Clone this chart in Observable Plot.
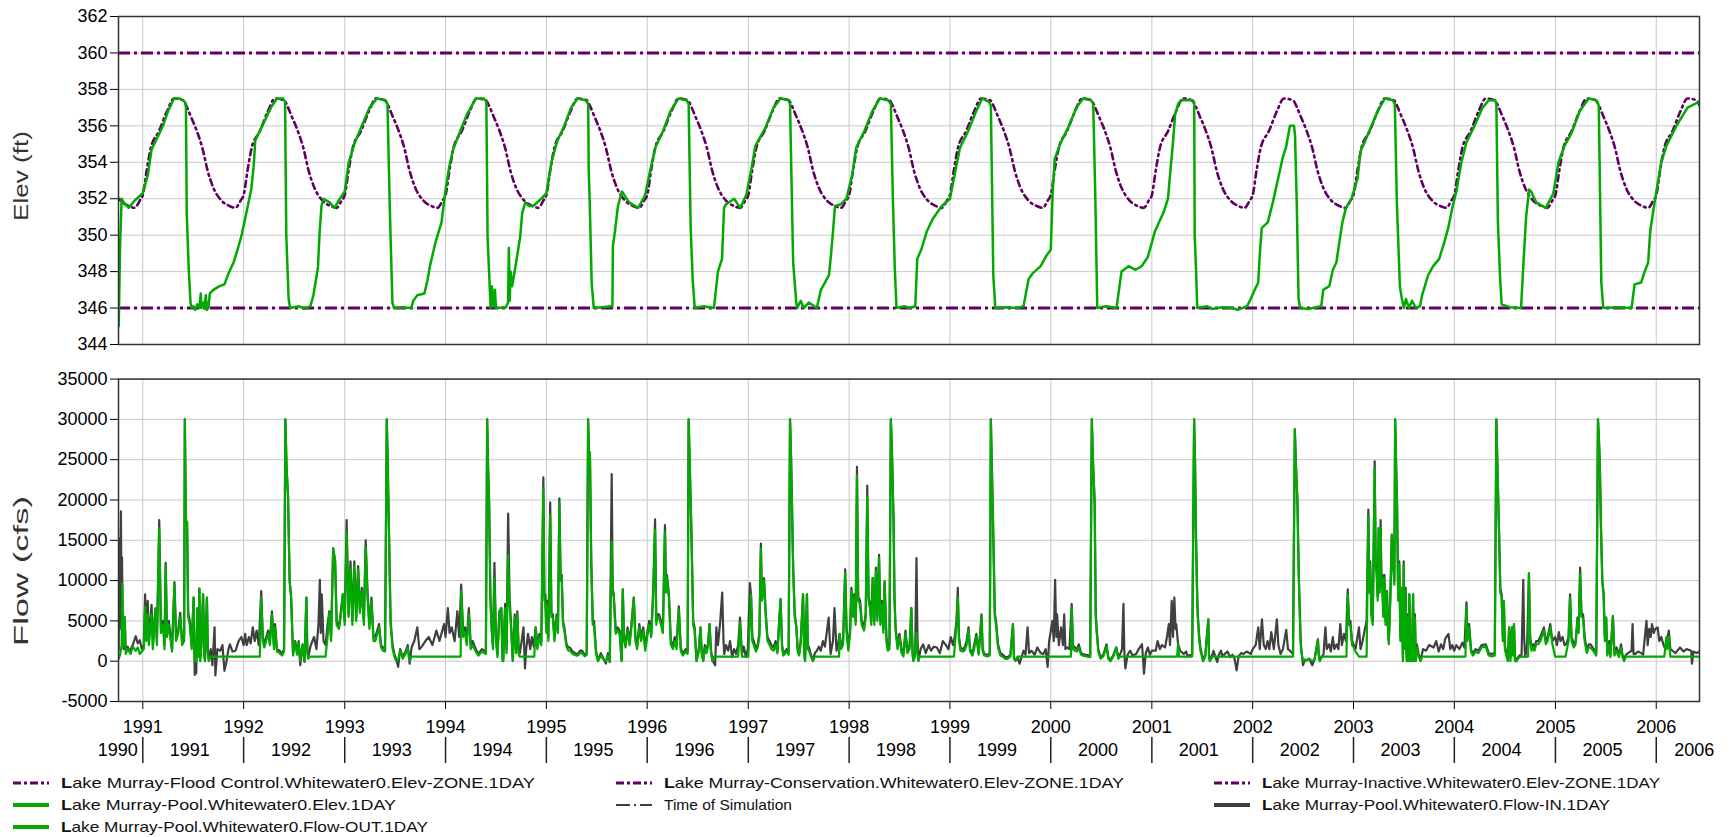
<!DOCTYPE html>
<html><head><meta charset="utf-8">
<script src="https://cdn.jsdelivr.net/npm/d3@7"></script>
<script src="https://cdn.jsdelivr.net/npm/@observablehq/plot@0.6"></script>
<style>
body{margin:0;background:#fff;font-family:"Liberation Sans",Arial,sans-serif;}
#root{position:relative;width:1735px;height:837px;overflow:hidden;background:#fff;}
#root > div{position:absolute;left:0;}
#overlay{position:absolute;left:0;top:0;pointer-events:none;}
</style></head>
<body><div id="root"><div id="topPanel" style="top:0"></div><div id="bottomPanel" style="top:360px"></div><div id="axis2" style="top:737px"></div><svg id="overlay" width="1735" height="837"></svg></div>
<script>
// ---------- DATA (decimal year, value) ----------
const elevTicks = [344,346,348,350,352,354,356,358,360,362];
const flowTicks = [-5000,0,5000,10000,15000,20000,25000,30000,35000];
const tickYears = [1991,1992,1993,1994,1995,1996,1997,1998,1999,2000,2001,2002,2003,2004,2005,2006];
const periodLabels = ["1990","1991","1992","1993","1994","1995","1996","1997","1998","1999","2000","2001","2002","2003","2004","2005","2006"];
const floodControlElev = [360];
const inactiveElev = [346];
// Conservation guide curve: fraction of year -> elevation (ft)
const guideFrac = [0,0.04,0.08,0.16,0.24,0.31,0.40,0.44,0.47,0.53,0.59,0.645,0.70,0.78,0.86,0.92,0.97];
const guideElev = [352.2,353.6,354.8,355.7,356.8,357.5,357.4,357.0,356.6,355.8,354.8,353.5,352.6,351.9,351.6,351.5,351.9];

const poolElev = [[1990.761,345.0],[1990.775,349.5],[1990.79,352.0],[1990.81,351.8],[1990.86,351.5],[1990.92,351.9],[1991.0,352.3],[1991.05,353.3],[1991.087,354.7],[1991.14,355.3],[1991.2,356.0],[1991.25,356.8],[1991.31,357.5],[1991.37,357.5],[1991.42,357.3],[1991.428,357.0],[1991.436,351.2],[1991.455,348.2],[1991.473,346.3],[1991.485,346.0],[1991.5,346.1],[1991.52,345.9],[1991.54,346.2],[1991.56,346.0],[1991.575,346.8],[1991.58,346.0],[1991.6,346.3],[1991.61,346.0],[1991.625,346.7],[1991.635,345.9],[1991.65,346.0],[1991.665,346.8],[1991.7,347.0],[1991.76,347.2],[1991.81,347.3],[1991.85,347.9],[1991.9,348.5],[1991.94,349.2],[1991.98,350.0],[1992.03,351.3],[1992.075,352.5],[1992.1,353.8],[1992.115,355.2],[1992.15,355.6],[1992.21,356.3],[1992.27,357.0],[1992.33,357.5],[1992.39,357.5],[1992.41,357.3],[1992.422,350.0],[1992.445,346.5],[1992.46,346.0],[1992.55,346.1],[1992.6,345.95],[1992.66,346.1],[1992.69,346.7],[1992.735,348.2],[1992.75,350.0],[1992.77,351.6],[1992.79,352.0],[1992.85,351.8],[1992.9,351.5],[1992.94,351.9],[1993.0,352.4],[1993.04,354.0],[1993.095,355.0],[1993.17,356.0],[1993.246,357.0],[1993.32,357.5],[1993.4,357.4],[1993.424,357.2],[1993.447,351.5],[1993.473,346.3],[1993.49,346.0],[1993.57,346.05],[1993.66,346.0],[1993.68,346.4],[1993.72,346.7],[1993.79,346.8],[1993.82,347.5],[1993.845,348.3],[1993.9,349.6],[1993.96,350.7],[1994.0,352.5],[1994.038,353.8],[1994.075,354.7],[1994.13,355.5],[1994.21,356.6],[1994.3,357.5],[1994.38,357.5],[1994.405,357.3],[1994.417,349.9],[1994.447,346.0],[1994.46,347.2],[1994.475,346.1],[1994.49,347.0],[1994.5,346.0],[1994.6,346.05],[1994.62,346.3],[1994.628,349.3],[1994.637,346.4],[1994.645,348.0],[1994.66,347.2],[1994.7,348.5],[1994.74,349.9],[1994.76,351.2],[1994.79,351.8],[1994.83,351.6],[1994.87,351.6],[1994.93,351.9],[1995.0,352.3],[1995.05,354.0],[1995.11,355.2],[1995.17,355.9],[1995.245,357.0],[1995.31,357.5],[1995.39,357.4],[1995.415,357.2],[1995.42,353.6],[1995.43,351.8],[1995.45,347.3],[1995.47,346.0],[1995.55,346.05],[1995.64,346.1],[1995.655,346.1],[1995.66,349.4],[1995.68,350.2],[1995.71,351.6],[1995.75,352.4],[1995.82,351.8],[1995.91,351.5],[1995.98,352.2],[1996.02,353.3],[1996.08,354.8],[1996.156,355.7],[1996.23,356.8],[1996.31,357.5],[1996.39,357.4],[1996.41,357.2],[1996.43,350.4],[1996.45,347.6],[1996.47,346.0],[1996.56,346.1],[1996.66,346.0],[1996.7,348.0],[1996.74,348.7],[1996.76,351.5],[1996.78,351.7],[1996.86,352.0],[1996.92,351.5],[1996.98,352.2],[1997.03,353.6],[1997.07,354.9],[1997.17,355.9],[1997.25,357.0],[1997.32,357.5],[1997.4,357.4],[1997.414,357.2],[1997.445,348.5],[1997.476,346.3],[1997.485,346.0],[1997.52,346.4],[1997.55,346.0],[1997.6,346.3],[1997.68,346.0],[1997.72,347.0],[1997.76,347.4],[1997.8,347.8],[1997.82,348.9],[1997.84,350.2],[1997.86,351.6],[1997.92,351.7],[1997.973,352.0],[1998.03,353.3],[1998.07,354.8],[1998.15,355.7],[1998.23,356.8],[1998.305,357.5],[1998.385,357.4],[1998.414,357.2],[1998.434,352.0],[1998.453,348.2],[1998.47,346.0],[1998.55,346.1],[1998.6,346.0],[1998.656,346.1],[1998.676,348.7],[1998.715,349.2],[1998.77,350.2],[1998.83,350.9],[1998.92,351.6],[1999.0,352.0],[1999.06,353.7],[1999.1,354.8],[1999.18,355.7],[1999.26,356.8],[1999.32,357.5],[1999.39,357.3],[1999.406,357.1],[1999.43,347.8],[1999.45,346.0],[1999.55,346.05],[1999.67,346.0],[1999.73,346.1],[1999.78,347.6],[1999.82,347.9],[1999.9,348.3],[1999.96,348.9],[2000.0,349.2],[2000.02,352.5],[2000.04,354.2],[2000.1,355.1],[2000.18,356.0],[2000.254,357.0],[2000.32,357.5],[2000.4,357.4],[2000.42,357.2],[2000.44,352.3],[2000.46,346.0],[2000.55,346.1],[2000.65,346.0],[2000.7,348.0],[2000.77,348.3],[2000.84,348.1],[2000.9,348.3],[2000.96,348.8],[2001.03,350.2],[2001.07,350.7],[2001.12,351.3],[2001.16,352.0],[2001.18,353.3],[2001.21,355.1],[2001.23,356.6],[2001.26,357.2],[2001.29,357.4],[2001.4,357.4],[2001.42,357.2],[2001.425,350.0],[2001.44,347.8],[2001.45,346.0],[2001.55,346.1],[2001.6,345.95],[2001.7,346.05],[2001.8,346.0],[2001.85,345.9],[2001.945,346.1],[2001.98,346.5],[2002.02,347.0],[2002.055,347.4],[2002.07,348.9],[2002.09,350.4],[2002.15,350.7],[2002.2,351.8],[2002.26,353.3],[2002.3,354.3],[2002.33,354.8],[2002.37,356.0],[2002.41,356.0],[2002.42,355.5],[2002.437,351.8],[2002.455,346.5],[2002.47,346.0],[2002.55,345.95],[2002.68,346.1],[2002.7,347.0],[2002.76,347.2],[2002.795,348.1],[2002.83,348.5],[2002.87,350.0],[2002.89,350.7],[2002.925,351.5],[2002.98,352.0],[2003.04,353.1],[2003.07,354.6],[2003.11,355.1],[2003.17,355.9],[2003.24,356.8],[2003.31,357.5],[2003.39,357.4],[2003.41,357.2],[2003.43,351.8],[2003.46,347.2],[2003.48,346.5],[2003.5,346.0],[2003.52,346.5],[2003.55,346.0],[2003.58,346.4],[2003.62,346.0],[2003.66,346.1],[2003.68,346.7],[2003.74,347.8],[2003.79,348.3],[2003.85,348.7],[2003.9,349.6],[2003.94,350.4],[2003.98,351.5],[2004.02,352.4],[2004.07,354.0],[2004.12,355.1],[2004.2,356.0],[2004.28,357.0],[2004.34,357.4],[2004.405,357.4],[2004.416,357.2],[2004.431,350.7],[2004.453,347.6],[2004.468,346.2],[2004.55,346.05],[2004.66,346.0],[2004.68,348.1],[2004.71,351.0],[2004.74,352.5],[2004.76,352.4],[2004.81,351.8],[2004.904,351.5],[2004.98,352.3],[2005.03,354.0],[2005.09,354.9],[2005.16,355.6],[2005.24,356.8],[2005.33,357.5],[2005.405,357.4],[2005.43,357.1],[2005.455,347.4],[2005.475,346.0],[2005.6,346.05],[2005.755,346.0],[2005.785,347.3],[2005.85,347.4],[2005.885,348.0],[2005.92,348.5],[2005.94,350.2],[2005.975,351.5],[2006.01,352.7],[2006.05,354.0],[2006.1,354.9],[2006.2,356.0],[2006.31,357.0],[2006.42,357.3]];

const flowIn = [[1990.761,1300],[1990.766,15200],[1990.772,4000],[1990.778,12900],[1990.783,18600],[1990.789,6000],[1990.794,12900],[1990.80,3000],[1990.81,1500],[1990.82,5000],[1990.83,1500],[1990.85,1800],[1990.87,1200],[1990.9,2000],[1990.93,3100],[1990.95,2200],[1990.97,2600],[1990.99,1500],
[1991.01,2000],[1991.023,8300],[1991.035,3000],[1991.049,7500],[1991.06,2500],[1991.087,7000],[1991.1,2000],[1991.125,6500],[1991.14,2500],[1991.163,17500],[1991.18,4000],[1991.201,5000],[1991.215,2000],[1991.227,12200],[1991.24,3500],[1991.258,5000],[1991.277,3000],[1991.29,1500],[1991.314,9800],[1991.33,3000],[1991.352,4000],[1991.371,6000],[1991.39,2500],[1991.41,3000],[1991.417,30000],[1991.428,17000],[1991.439,17300],[1991.45,6000],[1991.466,5000],[1991.485,2000],[1991.504,7900],[1991.515,-1700],[1991.523,2500],[1991.53,-1500],[1991.542,6600],[1991.55,1000],[1991.561,9000],[1991.57,500],[1991.58,2000],[1991.598,8300],[1991.61,1000],[1991.617,300],[1991.636,7900],[1991.645,1500],[1991.655,200],[1991.674,1500],[1991.69,-500],[1991.712,4200],[1991.72,-1760],[1991.74,1500],[1991.769,1300],[1991.79,2000],[1991.81,-1200],[1991.826,-300],[1991.85,1500],[1991.864,2100],[1991.89,1200],[1991.92,1300],[1991.95,2500],[1991.977,3000],
[1992.0,2000],[1992.015,3400],[1992.03,2000],[1992.053,3000],[1992.07,2200],[1992.091,4200],[1992.11,2500],[1992.129,3800],[1992.15,2000],[1992.174,8700],[1992.19,3000],[1992.205,2100],[1992.242,3800],[1992.26,2500],[1992.28,6200],[1992.3,2000],[1992.311,4600],[1992.33,1500],[1992.356,1300],[1992.38,900],[1992.4,1500],[1992.413,30000],[1992.425,24000],[1992.439,20600],[1992.455,10000],[1992.47,7900],[1992.489,900],[1992.51,2500],[1992.53,1000],[1992.545,2500],[1992.56,-500],[1992.583,2100],[1992.602,-100],[1992.621,7900],[1992.63,1500],[1992.64,500],[1992.66,1800],[1992.68,2500],[1992.697,3000],[1992.72,1500],[1992.74,4500],[1992.754,10100],[1992.763,3500],[1992.773,8300],[1992.79,2500],[1992.811,2000],[1992.83,4500],[1992.848,6200],[1992.865,3000],[1992.886,14000],[1992.905,12400],[1992.92,5000],[1992.943,4200],[1992.96,6000],[1992.981,8300],[1993.0,5000],
[1993.019,17500],[1993.038,5800],[1993.057,12400],[1993.076,5000],[1993.095,12400],[1993.114,5400],[1993.133,11800],[1993.15,6500],[1993.17,9100],[1993.19,5000],[1993.208,15000],[1993.227,8300],[1993.245,4500],[1993.265,7900],[1993.285,3000],[1993.303,3000],[1993.341,4600],[1993.36,2000],[1993.379,1700],[1993.4,1500],[1993.417,30000],[1993.426,25000],[1993.436,18100],[1993.455,5000],[1993.475,2000],[1993.492,900],[1993.51,300],[1993.53,-700],[1993.55,1500],[1993.575,500],[1993.606,1300],[1993.625,2000],[1993.644,-300],[1993.663,1700],[1993.69,2500],[1993.72,4200],[1993.74,1500],[1993.758,1700],[1993.8,2500],[1993.833,3000],[1993.87,2000],[1993.909,3800],[1993.94,2500],[1993.985,4600],[1994.0,3000],
[1994.023,6600],[1994.04,3500],[1994.061,4200],[1994.09,2500],[1994.117,6200],[1994.135,3000],[1994.155,9500],[1994.175,3500],[1994.193,4200],[1994.21,2500],[1994.231,6600],[1994.25,2000],[1994.269,2500],[1994.3,1500],[1994.326,900],[1994.36,1500],[1994.4,1200],[1994.413,30000],[1994.422,24000],[1994.432,19800],[1994.445,8000],[1994.458,4200],[1994.47,2000],[1994.485,12200],[1994.5,3000],[1994.515,900],[1994.534,6200],[1994.553,6600],[1994.565,500],[1994.572,100],[1994.591,7100],[1994.605,1500],[1994.621,18300],[1994.635,8000],[1994.648,5000],[1994.667,100],[1994.686,5800],[1994.7,1500],[1994.712,6200],[1994.725,1500],[1994.735,900],[1994.755,2500],[1994.773,4200],[1994.788,-900],[1994.8,1500],[1994.818,3400],[1994.84,1500],[1994.856,3000],[1994.875,1800],[1994.894,4200],[1994.91,2000],[1994.932,3400],[1994.95,2500],[1994.97,22800],[1994.98,8000],[1994.989,8300],[1995.0,4000],
[1995.008,7500],[1995.02,3000],[1995.038,19700],[1995.05,6000],[1995.064,5800],[1995.08,3000],[1995.102,5800],[1995.115,4000],[1995.129,20200],[1995.141,10700],[1995.152,10700],[1995.165,5000],[1995.178,4200],[1995.2,2100],[1995.219,1700],[1995.235,1700],[1995.26,1200],[1995.297,900],[1995.311,900],[1995.335,1300],[1995.355,1300],[1995.38,800],[1995.4,1000],[1995.414,30000],[1995.422,26000],[1995.432,25900],[1995.445,12400],[1995.46,5000],[1995.473,5000],[1995.492,1300],[1995.512,100],[1995.54,1000],[1995.56,500],[1995.59,-300],[1995.61,1000],[1995.629,-100],[1995.648,23200],[1995.658,9000],[1995.668,8300],[1995.688,3800],[1995.707,4200],[1995.727,3800],[1995.746,100],[1995.758,8900],[1995.77,3000],[1995.785,2100],[1995.805,4200],[1995.825,2500],[1995.844,4600],[1995.867,7900],[1995.883,3000],[1995.9,2000],[1995.922,4600],[1995.94,3000],[1995.961,4200],[1995.98,1700],
[1996.0,3500],[1996.02,5000],[1996.04,3500],[1996.059,8700],[1996.078,17600],[1996.09,5000],[1996.098,5800],[1996.117,5800],[1996.137,5000],[1996.155,4000],[1996.176,16900],[1996.186,9000],[1996.195,10700],[1996.215,8300],[1996.234,2500],[1996.255,2000],[1996.273,3000],[1996.29,2000],[1996.313,6800],[1996.332,1700],[1996.352,900],[1996.38,1500],[1996.4,1200],[1996.41,30000],[1996.42,25000],[1996.438,15700],[1996.455,5000],[1996.469,4200],[1996.488,100],[1996.51,1500],[1996.527,4200],[1996.54,1000],[1996.555,100],[1996.57,2000],[1996.586,1300],[1996.6,2000],[1996.617,4600],[1996.63,1500],[1996.645,100],[1996.672,-500],[1996.684,4200],[1996.7,2000],[1996.723,5000],[1996.742,8500],[1996.755,2500],[1996.762,900],[1996.78,2000],[1996.801,1300],[1996.82,2500],[1996.84,500],[1996.86,1500],[1996.879,900],[1996.9,2000],[1996.918,5400],[1996.93,2500],[1996.938,900],[1996.955,1800],[1996.977,500],[1996.995,1500],
[1997.016,9700],[1997.027,8300],[1997.04,3000],[1997.055,2500],[1997.075,1500],[1997.094,2100],[1997.11,3500],[1997.125,14600],[1997.135,8000],[1997.141,8300],[1997.156,10300],[1997.172,6200],[1997.19,3000],[1997.211,2500],[1997.23,2000],[1997.25,1700],[1997.27,2500],[1997.289,1300],[1997.32,7700],[1997.335,2000],[1997.348,900],[1997.38,1500],[1997.4,1000],[1997.414,30000],[1997.425,25000],[1997.445,11600],[1997.46,6000],[1997.477,4200],[1997.49,1500],[1997.504,900],[1997.52,2500],[1997.543,8300],[1997.555,1000],[1997.563,100],[1997.582,8300],[1997.59,2000],[1997.602,1700],[1997.62,900],[1997.641,100],[1997.66,1000],[1997.68,1300],[1997.7,1800],[1997.719,1300],[1997.74,2500],[1997.76,1800],[1997.797,5400],[1997.816,900],[1997.84,2500],[1997.855,6600],[1997.875,1300],[1997.89,2000],[1997.906,3400],[1997.92,2000],[1997.94,2500],[1997.961,11400],[1997.975,4000],[1997.992,1700],
[1998.01,4000],[1998.023,9100],[1998.04,6000],[1998.051,8300],[1998.065,5000],[1998.078,24100],[1998.09,8000],[1998.109,7500],[1998.125,5000],[1998.148,4200],[1998.165,6000],[1998.18,21800],[1998.193,8000],[1998.207,7100],[1998.22,5000],[1998.234,10300],[1998.25,5000],[1998.266,11600],[1998.28,5500],[1998.297,13200],[1998.31,5000],[1998.324,7500],[1998.34,4000],[1998.352,9900],[1998.37,3000],[1998.383,1700],[1998.4,2000],[1998.414,30000],[1998.425,26000],[1998.441,17300],[1998.45,8000],[1998.461,4200],[1998.48,2000],[1998.5,3400],[1998.52,1500],[1998.539,900],[1998.559,3800],[1998.578,1300],[1998.6,2000],[1998.617,6600],[1998.63,1000],[1998.637,100],[1998.655,1000],[1998.668,12800],[1998.678,3000],[1998.688,100],[1998.71,1500],[1998.734,2100],[1998.76,1000],[1998.79,2000],[1998.813,1300],[1998.84,1800],[1998.871,1700],[1998.9,1000],[1998.93,2500],[1998.96,2000],[1998.985,1500],
[1999.008,3000],[1999.03,2000],[1999.047,3000],[1999.065,5000],[1999.078,9100],[1999.09,3000],[1999.105,1700],[1999.125,1500],[1999.145,1700],[1999.165,2500],[1999.184,4200],[1999.2,1500],[1999.223,900],[1999.24,2000],[1999.262,3400],[1999.285,1000],[1999.313,5800],[1999.325,1500],[1999.34,900],[1999.37,800],[1999.395,900],[1999.406,30000],[1999.416,24000],[1999.43,15700],[1999.445,6000],[1999.457,5000],[1999.477,2100],[1999.5,1000],[1999.516,900],[1999.55,500],[1999.574,500],[1999.6,800],[1999.625,4600],[1999.635,500],[1999.652,100],[1999.67,500],[1999.691,-300],[1999.71,500],[1999.73,1300],[1999.75,800],[1999.77,4200],[1999.785,1000],[1999.809,1300],[1999.84,800],[1999.867,1700],[1999.9,1000],[1999.926,900],[1999.95,1500],[1999.969,-700],[1999.984,2500],
[2000.016,5000],[2000.03,2500],[2000.043,10100],[2000.055,3000],[2000.063,5800],[2000.08,2000],[2000.102,4200],[2000.12,2000],[2000.133,5800],[2000.145,1500],[2000.16,1700],[2000.185,1500],[2000.207,7100],[2000.22,2000],[2000.238,1700],[2000.26,1500],[2000.277,2100],[2000.3,1000],[2000.316,900],[2000.35,800],[2000.39,700],[2000.406,30000],[2000.42,24000],[2000.434,19800],[2000.445,6000],[2000.453,4200],[2000.47,1500],[2000.492,500],[2000.52,800],[2000.551,2100],[2000.57,500],[2000.59,100],[2000.62,800],[2000.648,1700],[2000.668,500],[2000.688,900],[2000.705,1500],[2000.719,7100],[2000.728,1000],[2000.738,-900],[2000.76,800],[2000.785,1300],[2000.81,700],[2000.844,900],[2000.87,1500],[2000.902,2100],[2000.912,500],[2000.922,-1560],[2000.94,1000],[2000.961,1700],[2000.98,800],
[2001.0,1300],[2001.038,1300],[2001.057,2500],[2001.08,1500],[2001.1,2000],[2001.131,1700],[2001.15,3000],[2001.168,4600],[2001.18,2000],[2001.197,7500],[2001.21,3000],[2001.223,7900],[2001.235,4000],[2001.242,4600],[2001.26,2100],[2001.28,1300],[2001.316,900],[2001.34,1200],[2001.353,700],[2001.4,800],[2001.419,30000],[2001.428,25000],[2001.438,15300],[2001.45,8000],[2001.456,5800],[2001.47,3000],[2001.482,1700],[2001.508,100],[2001.53,800],[2001.56,5200],[2001.567,800],[2001.575,100],[2001.6,800],[2001.612,1300],[2001.63,500],[2001.649,-100],[2001.665,800],[2001.686,1300],[2001.7,600],[2001.723,900],[2001.75,1200],[2001.778,500],[2001.8,800],[2001.82,300],[2001.841,-1150],[2001.86,600],[2001.885,1000],[2001.908,900],[2001.94,1200],[2001.982,900],
[2002.0,1500],[2002.03,2000],[2002.055,4200],[2002.07,1500],[2002.092,5200],[2002.11,2000],[2002.13,1500],[2002.148,2500],[2002.165,1500],[2002.185,3600],[2002.21,1500],[2002.24,5200],[2002.255,2000],[2002.277,900],[2002.3,1500],[2002.333,3900],[2002.35,1500],[2002.37,1300],[2002.4,900],[2002.418,28800],[2002.43,24000],[2002.444,19800],[2002.455,12000],[2002.462,8300],[2002.475,3000],[2002.481,1700],[2002.499,-500],[2002.52,200],[2002.536,100],[2002.56,300],[2002.592,-500],[2002.615,300],[2002.647,2700],[2002.655,1000],[2002.666,100],[2002.685,500],[2002.703,900],[2002.721,4200],[2002.735,1500],[2002.758,2100],[2002.775,1200],[2002.795,3000],[2002.81,1500],[2002.832,2100],[2002.85,1500],[2002.869,4600],[2002.885,2000],[2002.906,3400],[2002.925,2500],[2002.943,8900],[2002.955,5000],[2002.969,5000],[2002.985,2500],
[2002.999,2100],[2003.02,1500],[2003.054,4200],[2003.07,1500],[2003.09,2500],[2003.11,3800],[2003.13,5000],[2003.147,18800],[2003.158,9000],[2003.165,12400],[2003.178,6000],[2003.191,5000],[2003.21,24800],[2003.22,12000],[2003.228,11600],[2003.24,8000],[2003.25,16500],[2003.26,9000],[2003.269,17500],[2003.277,10000],[2003.284,10700],[2003.295,6000],[2003.306,10700],[2003.318,5000],[2003.332,8700],[2003.34,5000],[2003.35,2500],[2003.365,8000],[2003.38,15700],[2003.395,12000],[2003.405,10000],[2003.413,30000],[2003.42,26000],[2003.432,19400],[2003.443,8000],[2003.454,12400],[2003.465,3000],[2003.48,9100],[2003.49,500],[2003.498,12400],[2003.508,2000],[2003.517,9100],[2003.527,500],[2003.535,5800],[2003.545,300],[2003.554,8300],[2003.563,500],[2003.572,3000],[2003.58,200],[2003.591,8300],[2003.6,300],[2003.609,5800],[2003.618,200],[2003.628,2100],[2003.646,900],[2003.665,100],[2003.69,1500],[2003.72,1300],[2003.75,2000],[2003.794,1700],[2003.82,2500],[2003.845,1200],[2003.868,2100],[2003.89,1500],[2003.91,2800],[2003.942,3400],[2003.96,1500],[2003.98,2000],[2003.998,1300],
[2004.02,2000],[2004.05,1500],[2004.08,2300],[2004.1,1700],[2004.12,7300],[2004.13,3000],[2004.146,4600],[2004.165,1500],[2004.183,900],[2004.21,1500],[2004.238,1300],[2004.27,2000],[2004.312,2100],[2004.34,1000],[2004.368,900],[2004.4,1000],[2004.416,30000],[2004.425,25000],[2004.442,16100],[2004.455,9000],[2004.468,8300],[2004.48,3000],[2004.49,7500],[2004.5,2000],[2004.516,900],[2004.53,500],[2004.542,4200],[2004.555,500],[2004.571,4200],[2004.58,1000],[2004.59,4600],[2004.6,500],[2004.616,100],[2004.63,500],[2004.645,700],[2004.665,800],[2004.682,10100],[2004.69,3000],[2004.701,500],[2004.72,2000],[2004.738,10900],[2004.75,3000],[2004.764,1700],[2004.78,2100],[2004.793,1700],[2004.81,2500],[2004.83,2500],[2004.85,3000],[2004.886,4200],[2004.905,2500],[2004.923,3000],[2004.949,4600],[2004.97,2500],[2004.997,3000],
[2005.015,2000],[2005.034,3600],[2005.05,2500],[2005.071,3000],[2005.09,2000],[2005.108,2100],[2005.13,3000],[2005.145,8300],[2005.16,3000],[2005.182,2100],[2005.2,2500],[2005.219,5400],[2005.23,4000],[2005.245,11600],[2005.258,6000],[2005.274,5800],[2005.29,3000],[2005.311,1300],[2005.33,2100],[2005.348,2100],[2005.38,1500],[2005.405,1000],[2005.422,30000],[2005.43,28000],[2005.44,24700],[2005.452,16500],[2005.465,10000],[2005.478,8300],[2005.49,3000],[2005.503,5400],[2005.515,1000],[2005.533,2500],[2005.545,800],[2005.57,5600],[2005.585,1000],[2005.607,1700],[2005.63,800],[2005.651,2100],[2005.665,800],[2005.681,300],[2005.7,800],[2005.72,1000],[2005.755,1300],[2005.765,4600],[2005.775,900],[2005.792,900],[2005.82,1200],[2005.85,1000],[2005.87,800],[2005.903,5000],[2005.915,2000],[2005.93,4000],[2005.945,3000],[2005.958,4600],[2005.975,3500],[2005.99,4000],
[2006.014,4200],[2006.03,2500],[2006.05,3000],[2006.07,2100],[2006.09,1500],[2006.125,3800],[2006.14,1500],[2006.162,1300],[2006.19,1000],[2006.236,1700],[2006.27,1200],[2006.3,1500],[2006.347,1300],[2006.354,-300],[2006.37,1200],[2006.4,1000],[2006.421,1200],[2006.43,1000]];

const flowOut = [[1990.761,300],[1990.775,800],[1990.79,2000],[1990.797,9700],[1990.803,6000],[1990.81,2000],[1990.822,5500],[1990.83,900],[1990.85,1500],[1990.88,900],[1990.9,1800],[1990.93,1300],[1990.95,1700],[1990.97,900],[1990.99,1200],
[1991.01,1500],[1991.023,6800],[1991.035,2500],[1991.049,5800],[1991.06,2000],[1991.087,5800],[1991.1,1500],[1991.125,6600],[1991.14,2000],[1991.163,16500],[1991.18,3500],[1991.201,4500],[1991.215,1500],[1991.227,11800],[1991.24,3000],[1991.258,4500],[1991.277,2500],[1991.29,1200],[1991.314,9600],[1991.33,2500],[1991.352,3500],[1991.371,5500],[1991.39,2000],[1991.41,2500],[1991.417,30000],[1991.428,17000],[1991.439,17300],[1991.45,5500],[1991.466,4500],[1991.485,1500],[1991.504,7900],[1991.515,0],[1991.523,2500],[1991.53,0],[1991.542,6600],[1991.55,500],[1991.561,9000],[1991.57,0],[1991.58,1500],[1991.598,8300],[1991.61,500],[1991.617,0],[1991.636,7900],[1991.645,1000],[1991.655,0],[1991.67,570],
[1992.16,570],[1992.174,7900],[1992.19,2500],[1992.205,1700],[1992.242,3400],[1992.26,2000],[1992.28,5800],[1992.3,1500],[1992.311,4200],[1992.33,1200],[1992.356,1000],[1992.38,700],[1992.4,1200],[1992.413,30000],[1992.425,24000],[1992.439,20600],[1992.455,10000],[1992.47,7900],[1992.489,700],[1992.51,2300],[1992.53,800],[1992.545,2300],[1992.56,0],[1992.583,2000],[1992.602,0],[1992.621,7900],[1992.63,1000],[1992.64,300],[1992.65,570],[1992.81,570],[1992.83,3000],[1992.848,6000],[1992.865,2500],[1992.886,14000],[1992.905,12400],[1992.92,4500],[1992.943,4000],[1992.96,5500],[1992.981,8300],[1993.0,4500],
[1993.019,16000],[1993.038,5500],[1993.057,11500],[1993.076,4500],[1993.095,11800],[1993.114,5000],[1993.133,11400],[1993.15,6000],[1993.17,8700],[1993.19,4500],[1993.208,14200],[1993.227,7900],[1993.245,4000],[1993.265,7500],[1993.285,2500],[1993.303,2500],[1993.341,4200],[1993.36,1700],[1993.379,1300],[1993.4,1200],[1993.417,30000],[1993.426,25000],[1993.436,18100],[1993.455,4500],[1993.475,1500],[1993.492,600],[1993.51,0],[1993.53,200],[1993.55,1300],[1993.575,300],[1993.606,1000],[1993.625,1700],[1993.644,0],[1993.66,570],
[1994.15,570],[1994.155,8700],[1994.175,3000],[1994.193,3600],[1994.21,2000],[1994.231,5800],[1994.25,1500],[1994.269,2000],[1994.3,1200],[1994.326,700],[1994.36,1200],[1994.4,900],[1994.413,30000],[1994.422,24000],[1994.432,19800],[1994.445,7500],[1994.458,3800],[1994.47,1500],[1994.485,10300],[1994.5,2500],[1994.515,500],[1994.534,5800],[1994.553,6600],[1994.565,0],[1994.572,0],[1994.591,6600],[1994.605,1000],[1994.621,13200],[1994.635,7000],[1994.648,4500],[1994.667,0],[1994.686,5400],[1994.7,1000],[1994.712,5800],[1994.725,1000],[1994.735,570],[1994.88,570],[1994.894,4200],[1994.91,1500],[1994.932,3000],[1994.95,2000],[1994.97,21500],[1994.98,7500],[1994.989,7500],[1995.0,3500],
[1995.008,7000],[1995.02,2500],[1995.038,18100],[1995.05,5500],[1995.064,5400],[1995.08,2500],[1995.102,5400],[1995.115,3500],[1995.129,19600],[1995.141,10000],[1995.152,10300],[1995.165,4500],[1995.178,3800],[1995.2,1800],[1995.219,1300],[1995.235,1300],[1995.26,900],[1995.297,700],[1995.311,700],[1995.335,1000],[1995.355,1000],[1995.38,600],[1995.4,800],[1995.414,30000],[1995.422,26000],[1995.432,25900],[1995.445,12400],[1995.46,4500],[1995.473,4500],[1995.492,1000],[1995.512,0],[1995.54,700],[1995.56,300],[1995.59,0],[1995.61,700],[1995.629,0],[1995.648,14800],[1995.658,8500],[1995.668,8000],[1995.688,3400],[1995.707,3800],[1995.727,3400],[1995.746,0],[1995.758,8900],[1995.77,2500],[1995.785,1700],[1995.805,3800],[1995.825,2000],[1995.844,4200],[1995.867,7900],[1995.883,2500],[1995.9,1500],[1995.922,4200],[1995.94,2500],[1995.961,3800],[1995.98,1300],
[1996.0,3000],[1996.02,4500],[1996.04,3000],[1996.059,7900],[1996.078,16300],[1996.09,4500],[1996.098,5400],[1996.117,5400],[1996.137,4500],[1996.155,3500],[1996.176,16000],[1996.186,8500],[1996.195,10300],[1996.215,7900],[1996.234,2000],[1996.255,1500],[1996.273,2500],[1996.29,1500],[1996.313,6400],[1996.332,1300],[1996.352,700],[1996.38,1200],[1996.4,900],[1996.41,30000],[1996.42,25000],[1996.438,15700],[1996.455,4500],[1996.469,3800],[1996.488,0],[1996.51,1200],[1996.527,4200],[1996.54,700],[1996.555,0],[1996.57,1700],[1996.586,1000],[1996.6,1700],[1996.617,4600],[1996.63,1200],[1996.645,0],[1996.66,570],[1996.9,570],[1996.918,4800],[1996.93,2000],[1996.938,570],
[1997.0,570],[1997.027,8300],[1997.04,2500],[1997.055,2000],[1997.075,1200],[1997.094,1700],[1997.11,3000],[1997.125,14000],[1997.135,7500],[1997.141,8000],[1997.156,10000],[1997.172,5800],[1997.19,2500],[1997.211,2000],[1997.23,1500],[1997.25,1300],[1997.27,2000],[1997.289,1000],[1997.32,7700],[1997.335,1700],[1997.348,700],[1997.38,1200],[1997.4,800],[1997.414,30000],[1997.425,25000],[1997.445,11600],[1997.46,5500],[1997.477,4200],[1997.49,1200],[1997.504,700],[1997.52,2200],[1997.543,8300],[1997.555,700],[1997.563,0],[1997.582,8300],[1997.59,1500],[1997.602,1300],[1997.62,600],[1997.641,0],[1997.66,570],[1997.9,570],[1997.906,3400],[1997.92,1500],[1997.94,2000],[1997.961,11000],[1997.975,3500],[1997.992,1300],
[1998.01,3500],[1998.023,8700],[1998.04,5500],[1998.051,7900],[1998.065,4500],[1998.078,23000],[1998.09,7500],[1998.109,7000],[1998.125,4500],[1998.148,3800],[1998.165,5500],[1998.18,20500],[1998.193,7500],[1998.207,6600],[1998.22,4500],[1998.234,10300],[1998.25,4500],[1998.266,11200],[1998.28,5000],[1998.297,12800],[1998.31,4500],[1998.324,7100],[1998.34,3500],[1998.352,9900],[1998.37,2500],[1998.383,1300],[1998.4,1500],[1998.414,30000],[1998.425,26000],[1998.441,17300],[1998.45,7500],[1998.461,3800],[1998.48,1500],[1998.5,3000],[1998.52,1000],[1998.539,600],[1998.559,3400],[1998.578,1000],[1998.6,1500],[1998.617,6600],[1998.63,700],[1998.637,0],[1998.655,700],[1998.668,3500],[1998.678,1000],[1998.688,0],[1998.7,570],
[1999.04,570],[1999.065,4500],[1999.078,7900],[1999.09,2500],[1999.105,1300],[1999.125,1200],[1999.145,1300],[1999.165,2000],[1999.184,3800],[1999.2,1200],[1999.223,700],[1999.24,1500],[1999.262,3000],[1999.285,800],[1999.313,5400],[1999.325,1200],[1999.34,700],[1999.37,600],[1999.395,700],[1999.406,30000],[1999.416,24000],[1999.43,15700],[1999.445,5500],[1999.457,4500],[1999.477,1700],[1999.5,700],[1999.516,600],[1999.55,300],[1999.574,300],[1999.6,600],[1999.625,4600],[1999.635,300],[1999.652,0],[1999.67,570],
[2000.2,570],[2000.207,6600],[2000.22,1500],[2000.238,1300],[2000.26,1200],[2000.277,1700],[2000.3,800],[2000.316,700],[2000.35,600],[2000.39,500],[2000.406,30000],[2000.42,24000],[2000.434,19800],[2000.445,5500],[2000.453,3800],[2000.47,1200],[2000.492,300],[2000.52,600],[2000.551,1800],[2000.57,300],[2000.59,0],[2000.62,600],[2000.648,1700],[2000.668,300],[2000.688,570],
[2001.25,570],[2001.26,2100],[2001.27,570],[2001.4,570],[2001.419,30000],[2001.428,25000],[2001.438,15300],[2001.45,7500],[2001.456,5400],[2001.47,2500],[2001.482,1300],[2001.508,0],[2001.53,600],[2001.56,5200],[2001.567,600],[2001.575,0],[2001.6,570],
[2002.4,570],[2002.418,28700],[2002.43,24000],[2002.444,19800],[2002.455,12000],[2002.462,8300],[2002.475,2500],[2002.481,1300],[2002.499,0],[2002.52,200],[2002.536,100],[2002.56,300],[2002.592,0],[2002.615,300],[2002.647,2700],[2002.655,700],[2002.666,0],[2002.68,570],[2002.93,570],[2002.943,8300],[2002.955,4500],[2002.969,4500],[2002.985,2000],[2002.999,1800],[2003.02,1200],[2003.054,570],
[2003.13,570],[2003.147,18000],[2003.158,8500],[2003.165,12000],[2003.178,5500],[2003.191,4500],[2003.21,24000],[2003.22,11500],[2003.228,11200],[2003.24,7500],[2003.25,16500],[2003.26,8500],[2003.269,16500],[2003.277,9500],[2003.284,10300],[2003.295,5500],[2003.306,10300],[2003.318,4500],[2003.332,8700],[2003.34,4500],[2003.35,2100],[2003.365,7500],[2003.38,15700],[2003.395,11500],[2003.405,9500],[2003.413,30000],[2003.42,26000],[2003.432,19400],[2003.443,7500],[2003.454,12000],[2003.465,2500],[2003.48,9100],[2003.49,0],[2003.498,12000],[2003.508,1500],[2003.517,8700],[2003.527,0],[2003.535,5400],[2003.545,0],[2003.554,8300],[2003.563,0],[2003.572,2500],[2003.58,0],[2003.591,8300],[2003.6,0],[2003.609,5400],[2003.618,0],[2003.628,1700],[2003.646,600],[2003.665,0],[2003.68,570],
[2004.11,570],[2004.12,6800],[2004.13,2500],[2004.146,4200],[2004.165,1200],[2004.183,700],[2004.21,1200],[2004.238,1000],[2004.27,1700],[2004.312,1800],[2004.34,700],[2004.368,600],[2004.4,700],[2004.416,30000],[2004.425,25000],[2004.442,16100],[2004.455,8500],[2004.468,7900],[2004.48,2500],[2004.49,7500],[2004.5,1500],[2004.516,600],[2004.53,0],[2004.542,4200],[2004.555,0],[2004.571,4200],[2004.58,700],[2004.59,4600],[2004.6,0],[2004.616,0],[2004.63,300],[2004.645,500],[2004.665,570],[2004.73,570],[2004.738,10900],[2004.75,2500],[2004.764,1300],[2004.78,1700],[2004.793,1300],[2004.81,2100],[2004.83,2100],[2004.85,2500],[2004.886,3800],[2004.905,2100],[2004.923,2500],[2004.949,4200],[2004.97,2100],[2004.997,570],
[2005.1,570],[2005.13,2500],[2005.145,7900],[2005.16,2500],[2005.182,1700],[2005.2,2100],[2005.219,5000],[2005.23,3500],[2005.245,10800],[2005.258,5500],[2005.274,5400],[2005.29,2500],[2005.311,1000],[2005.33,1700],[2005.348,1700],[2005.38,1200],[2005.405,700],[2005.422,30000],[2005.43,28000],[2005.44,24700],[2005.452,16500],[2005.465,10000],[2005.478,8300],[2005.49,2500],[2005.503,5400],[2005.515,700],[2005.533,2100],[2005.545,500],[2005.57,5600],[2005.585,700],[2005.607,1300],[2005.63,500],[2005.651,1700],[2005.665,500],[2005.681,0],[2005.7,570],
[2006.08,570],[2006.1,3000],[2006.11,1500],[2006.125,3000],[2006.14,570],[2006.43,570]];

// ---------- helpers ----------
const purple = "#600060", green = "#00aa00", darkGray = "#404040", gridColor = "#c8c8c8";
const FONT = "'Liberation Sans', Arial, sans-serif";
const toDate = t => { const y = Math.floor(t); const a = Date.UTC(y,0,1), b = Date.UTC(y+1,0,1); return new Date(a + (t-y)*(b-a)); };
const pts = arr => arr.map(([t,v]) => ({date: toDate(t), value: v}));
const xDomain = [toDate(1990.759), toDate(2006.429)];
const yearDates = tickYears.map(y => new Date(Date.UTC(y,0,1)));
const guide = [];
for (let y = 1990; y <= 2006; y++) guideFrac.forEach((f,i) => guide.push({date: toDate(y+f), value: guideElev[i]}));
const W = 1735, ML = 118, MR = 36;
const dashDot = "12,4,3,4";

// ---------- top panel: elevation ----------
const elevChart = Plot.plot({
  width: W, height: 360, marginLeft: ML, marginRight: MR, marginTop: 16, marginBottom: 16,
  style: {fontFamily: FONT, fontSize: "18px", color: "#000", background: "transparent"},
  x: {type: "utc", domain: xDomain, axis: null},
  y: {domain: [344, 362], ticks: elevTicks, tickSize: 8, tickPadding: 3, tickFormat: d => String(d), label: null},
  marks: [
    Plot.ruleY(elevTicks, {stroke: gridColor, strokeWidth: 1}),
    Plot.ruleX(yearDates, {stroke: gridColor, strokeWidth: 1}),
    Plot.ruleY(floodControlElev, {stroke: purple, strokeWidth: 3, strokeDasharray: dashDot}),
    Plot.ruleY(inactiveElev, {stroke: purple, strokeWidth: 3, strokeDasharray: dashDot}),
    Plot.line(guide, {x: "date", y: "value", stroke: purple, strokeWidth: 2.6, strokeDasharray: "6,4,2,4", curve: "monotone-x", clip: true}),
    Plot.line(pts(poolElev), {x: "date", y: "value", stroke: green, strokeWidth: 2.5, clip: true}),
    Plot.frame({stroke: "#333", strokeWidth: 1.5})
  ]
});
document.getElementById("topPanel").appendChild(elevChart);

// ---------- bottom panel: flows ----------
const flowChart = Plot.plot({
  width: W, height: 380, marginLeft: ML, marginRight: MR, marginTop: 18.6, marginBottom: 39,
  style: {fontFamily: FONT, fontSize: "18px", color: "#000", background: "transparent"},
  x: {type: "utc", domain: xDomain, ticks: yearDates, tickFormat: d3.utcFormat("%Y"), tickSize: 8, tickPadding: 11, label: null},
  y: {domain: [-5000, 35000], ticks: flowTicks, tickSize: 8, tickPadding: 3, tickFormat: d => String(d), label: null},
  marks: [
    Plot.ruleY(flowTicks, {stroke: gridColor, strokeWidth: 1}),
    Plot.ruleX(yearDates, {stroke: gridColor, strokeWidth: 1}),
    Plot.line(pts(flowIn), {x: "date", y: "value", stroke: darkGray, strokeWidth: 2.2, clip: true}),
    Plot.line(pts(flowOut), {x: "date", y: "value", stroke: green, strokeWidth: 2.2, clip: true}),
    Plot.frame({stroke: "#333", strokeWidth: 1.5})
  ]
});
document.getElementById("bottomPanel").appendChild(flowChart);

// ---------- second x-axis row: period labels ----------
const rowLabels = periodLabels.map((lab, i) => {
  const y = +lab;
  if (i === 0) return {date: new Date(Date.UTC(y+1,0,1)), text: lab, anchor: "end"};
  if (i === periodLabels.length - 1) return {date: new Date(Date.UTC(y,0,1)), text: lab, anchor: "start"};
  return {date: new Date(Date.UTC(y,6,1)), text: lab, anchor: "middle"};
});
const axisRow = Plot.plot({
  width: W, height: 26, marginLeft: ML, marginRight: MR, marginTop: 0, marginBottom: 0,
  style: {fontFamily: FONT, fontSize: "18px", color: "#000", background: "transparent", overflow: "visible"},
  x: {type: "utc", domain: xDomain, axis: null},
  marks: [
    Plot.ruleX(yearDates, {stroke: "#222", strokeWidth: 1.5}),
    Plot.text(rowLabels.filter(d => d.anchor === "middle"), {x: "date", text: "text", frameAnchor: "middle", textAnchor: "middle", dx: -3, fontSize: 18, fill: "#000"}),
    Plot.text(rowLabels.filter(d => d.anchor === "end"), {x: "date", text: "text", frameAnchor: "middle", textAnchor: "end", dx: -5, fontSize: 18, fill: "#000"}),
    Plot.text(rowLabels.filter(d => d.anchor === "start"), {x: "date", text: "text", frameAnchor: "middle", textAnchor: "start", dx: 18, fontSize: 18, fill: "#000"})
  ]
});
document.getElementById("axis2").appendChild(axisRow);

// ---------- overlay: axis titles + legend ----------
const ov = d3.select("#overlay");
const yTitles = [{text: "Elev (ft)", x: 21, y: 176, len: 90}, {text: "Flow (cfs)", x: 21, y: 571, len: 150}];
yTitles.forEach(t => ov.append("text").attr("transform", `translate(${t.x},${t.y}) rotate(-90)`)
  .attr("text-anchor", "middle").attr("dominant-baseline", "central")
  .attr("textLength", t.len).attr("lengthAdjust", "spacingAndGlyphs")
  .attr("font-family", FONT).attr("font-size", 20).attr("fill", "#333").text(t.text));

const legendItems = [
  {label: "Lake Murray-Flood Control.Whitewater0.Elev-ZONE.1DAY", x: 13, y: 783, len: 474, stroke: purple, w: 3, dash: "8,3,3,3"},
  {label: "Lake Murray-Conservation.Whitewater0.Elev-ZONE.1DAY", x: 616, y: 783, len: 460, stroke: purple, w: 3, dash: "8,3,3,3"},
  {label: "Lake Murray-Inactive.Whitewater0.Elev-ZONE.1DAY", x: 1214, y: 783, len: 398, stroke: purple, w: 3, dash: "8,3,3,3"},
  {label: "Lake Murray-Pool.Whitewater0.Elev.1DAY", x: 13, y: 805, len: 335, stroke: green, w: 4, dash: null},
  {label: "Time of Simulation", x: 616, y: 805, len: 128, stroke: "#000", w: 1.5, dash: "14,4,2,4"},
  {label: "Lake Murray-Pool.Whitewater0.Flow-IN.1DAY", x: 1214, y: 805, len: 348, stroke: darkGray, w: 4, dash: null},
  {label: "Lake Murray-Pool.Whitewater0.Flow-OUT.1DAY", x: 13, y: 827, len: 367, stroke: green, w: 4, dash: null}
];
legendItems.forEach(d => {
  const ln = ov.append("line").attr("x1", d.x).attr("x2", d.x + 36).attr("y1", d.y).attr("y2", d.y)
    .attr("stroke", d.stroke).attr("stroke-width", d.w);
  if (d.dash) ln.attr("stroke-dasharray", d.dash);
  const t = ov.append("text").attr("x", d.x + 48).attr("y", d.y).attr("dominant-baseline", "central")
    .attr("font-family", FONT).attr("font-size", 14.5).attr("fill", "#111")
    .attr("textLength", d.len).attr("lengthAdjust", "spacingAndGlyphs");
  if (d.label.startsWith("Lake")) {
    t.append("tspan").attr("font-weight", "bold").text(d.label[0]);
    t.append("tspan").text(d.label.slice(1));
  } else {
    t.text(d.label);
  }
});
</script></body></html>
